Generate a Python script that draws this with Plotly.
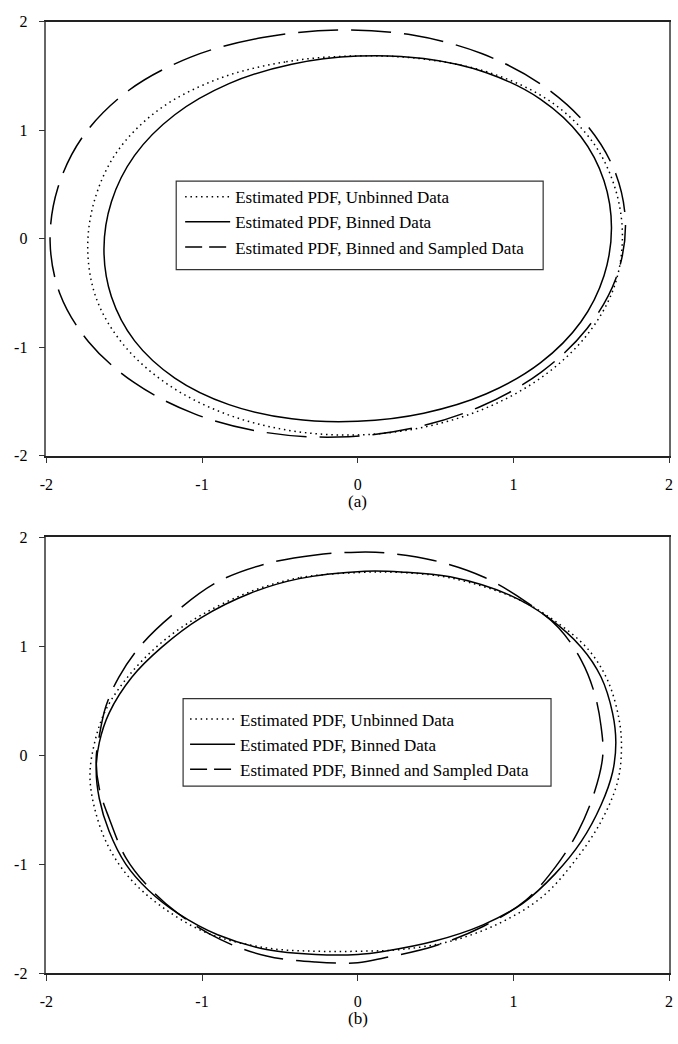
import plotly.graph_objects as go

# ---------------- data ----------------
# Panel (a): contour points, going round each closed curve, starting at the top
a_unbinned_x = [-0.017, -0.466, -0.901, -1.280, -1.549, -1.692, -1.734, -1.676, -1.504, -1.231, -0.876, -0.462,
                -0.017, 0.428, 0.842, 1.197, 1.470, 1.642, 1.700, 1.658, 1.515, 1.246, 0.867, 0.432, -0.017]
a_unbinned_y = [1.685, 1.630, 1.471, 1.187, 0.795, 0.347, -0.112, -0.563, -0.979, -1.333, -1.600, -1.763,
                -1.810, -1.737, -1.550, -1.262, -0.893, -0.466, -0.012, 0.443, 0.880, 1.257, 1.521, 1.655, 1.685]

a_binned_x = [0.0, -0.424, -0.827, -1.175, -1.433, -1.582, -1.630, -1.582, -1.433, -1.175, -0.827, -0.424,
              0.0, 0.424, 0.827, 1.175, 1.433, 1.582, 1.630, 1.582, 1.433, 1.175, 0.827, 0.424, 0.0]
a_binned_y = [1.684, 1.609, 1.430, 1.143, 0.768, 0.341, -0.100, -0.535, -0.942, -1.285, -1.530, -1.661,
              -1.684, -1.609, -1.430, -1.143, -0.768, -0.341, 0.100, 0.535, 0.942, 1.285, 1.530, 1.661, 1.684]

a_sampled_x = [-0.128, -0.611, -1.073, -1.474, -1.764, -1.926, -1.976, -1.913, -1.728, -1.435, -1.052, -0.607,
               -0.128, 0.351, 0.796, 1.179, 1.472, 1.657, 1.720, 1.657, 1.472, 1.179, 0.796, 0.351, -0.128]
a_sampled_y = [1.923, 1.855, 1.674, 1.364, 0.945, 0.469, -0.023, -0.507, -0.952, -1.328, -1.613, -1.783,
               -1.829, -1.747, -1.543, -1.230, -0.830, -0.371, 0.117, 0.601, 1.046, 1.422, 1.707, 1.877, 1.923]

# Panel (b)
b_unbinned_x = [0.0, -0.375, -0.69, -1.007, -1.26, -1.47, -1.618, -1.69, -1.72, -1.69, -1.608, -1.47, -1.26, -0.965,
                -0.586, -0.27, 0.0, 0.278, 0.594, 0.91, 1.184, 1.395, 1.563, 1.669, 1.694, 1.679, 1.605, 1.479, 1.268,
                1.016, 0.594, 0.278, 0.0]
b_unbinned_y = [1.676, 1.628, 1.50, 1.284, 1.034, 0.73, 0.416, 0.115, -0.187, -0.488, -0.82, -1.12, -1.39, -1.634,
                -1.77, -1.80, -1.80, -1.784, -1.709, -1.543, -1.302, -0.97, -0.609, -0.247, 0.054, 0.326, 0.687,
                0.973, 1.23, 1.44, 1.627, 1.676, 1.676]

b_binned_x = [0.046, -0.375, -0.69, -1.007, -1.26, -1.45, -1.597, -1.66, -1.68, -1.66, -1.597, -1.49, -1.344, -1.155,
              -0.90, -0.586, -0.27, 0.0, 0.173, 0.489, 0.805, 1.058, 1.268, 1.437, 1.563, 1.637, 1.658, 1.637, 1.563,
              1.437, 1.226, 0.973, 0.594, 0.278, 0.046]
b_binned_y = [1.688, 1.62, 1.486, 1.26, 0.989, 0.717, 0.386, 0.115, -0.127, -0.398, -0.699, -1.0, -1.24, -1.453,
              -1.649, -1.784, -1.83, -1.83, -1.80, -1.709, -1.558, -1.362, -1.09, -0.79, -0.458, -0.157, 0.115,
              0.386, 0.717, 0.989, 1.26, 1.471, 1.637, 1.682, 1.688]

b_sampled_x = [0.0, -0.27, -0.586, -0.9, -1.176, -1.386, -1.534, -1.618, -1.66, -1.68, -1.66, -1.597, -1.49, -1.344,
               -1.155, -0.88, -0.586, -0.27, 0.0, 0.173, 0.489, 0.805, 1.079, 1.268, 1.416, 1.521, 1.574, 1.563, 1.521,
               1.437, 1.29, 1.079, 0.805, 0.489, 0.173, 0.0]
b_sampled_y = [1.863, 1.838, 1.757, 1.59, 1.305, 1.019, 0.717, 0.446, 0.175, -0.036, -0.307, -0.579, -0.94, -1.21,
               -1.453, -1.694, -1.844, -1.899, -1.905, -1.86, -1.754, -1.573, -1.332, -1.03, -0.699, -0.338, -0.006,
               0.265, 0.567, 0.868, 1.17, 1.41, 1.637, 1.787, 1.857, 1.863]

series_names = ["Estimated PDF, Unbinned Data", "Estimated PDF, Binned Data",
                "Estimated PDF, Binned and Sampled Data"]
tick_vals = [-2, -1, 0, 1, 2]
tick_text = ["-2", "-1", "0", "1", "2"]
panel_labels = ["(a)", "(b)"]

# ---------------- figure ----------------
FONT = "Liberation Serif, Times New Roman, serif"
styles = [dict(color="black", width=1.5, dash="1.5px,3.8px"),
          dict(color="black", width=1.5),
          dict(color="black", width=1.5, dash="40px,13px")]
legend_styles = [dict(color="black", width=1.5, dash="1.5px,3.8px"),
                 dict(color="black", width=1.5),
                 dict(color="black", width=1.5, dash="17px,7px")]

fig = go.Figure()
panels = [
    ([a_unbinned_x, a_binned_x, a_sampled_x], [a_unbinned_y, a_binned_y, a_sampled_y], "x", "y", "legend"),
    ([b_unbinned_x, b_binned_x, b_sampled_x], [b_unbinned_y, b_binned_y, b_sampled_y], "x2", "y2", "legend2"),
]
for xs, ys, xa, ya, lg in panels:
    for i in range(3):
        fig.add_trace(go.Scatter(
            x=xs[i], y=ys[i], mode="lines", name=series_names[i], showlegend=False,
            line=dict(shape="spline", smoothing=1.0, **styles[i]),
            xaxis=xa, yaxis=ya, hoverinfo="skip"))
    # legend keys (shorter dash pattern for the legend key, as in the original)
    for i in range(3):
        fig.add_trace(go.Scatter(
            x=[None], y=[None], mode="lines", name=series_names[i], showlegend=True,
            line=legend_styles[i], xaxis=xa, yaxis=ya, legend=lg, hoverinfo="skip"))

W, H = 678, 1044
px = lambda v: v / W
py = lambda v: 1 - v / H

axis_common = dict(range=[-2, 2], tickmode="array", tickvals=tick_vals, ticktext=tick_text,
                   ticks="outside", ticklen=6, tickwidth=1, tickcolor="#333",
                   showgrid=False, zeroline=False, showline=True, mirror=True,
                   tickfont=dict(family=FONT, size=16, color="black"), fixedrange=True)

legend_common = dict(font=dict(family=FONT, size=17, color="black"), bgcolor="rgba(0,0,0,0)",
                     borderwidth=0, xanchor="left", yanchor="top", itemwidth=45,
                     tracegroupgap=0, traceorder="normal", itemclick=False, itemdoubleclick=False)

fig.update_layout(
    width=W, height=H, margin=dict(l=0, r=0, t=0, b=0),
    paper_bgcolor="white", plot_bgcolor="white", showlegend=True,
    xaxis=dict(domain=[px(40), px(673)], anchor="y", linecolor="#222", linewidth=1.5,
               ticklabelstandoff=7, **axis_common),
    yaxis=dict(domain=[py(455), py(14)], anchor="x", linecolor="#666", linewidth=1.5,
               ticklabelstandoff=8, **axis_common),
    xaxis2=dict(domain=[px(40), px(673)], anchor="y2", linecolor="#222", linewidth=1.5,
                ticklabelstandoff=7, **axis_common),
    yaxis2=dict(domain=[py(981), py(538)], anchor="x2", linecolor="#666", linewidth=1.5,
                ticklabelstandoff=8, **axis_common),
    legend=dict(x=px(176), y=py(174), **legend_common),
    legend2=dict(x=px(181), y=py(705), **legend_common),
    shapes=[
        dict(type="rect", xref="paper", yref="paper", x0=px(172), x1=px(545), y0=py(266), y1=py(176),
             line=dict(color="#333", width=1.2), fillcolor="rgba(0,0,0,0)"),
        dict(type="rect", xref="paper", yref="paper", x0=px(179), x1=px(553), y0=py(791), y1=py(702),
             line=dict(color="#333", width=1.2), fillcolor="rgba(0,0,0,0)"),
    ],
    annotations=[
        dict(text=panel_labels[0], x=0, xref="x", y=py(490), yref="paper", showarrow=False,
             font=dict(family=FONT, size=17, color="black"), yanchor="top"),
        dict(text=panel_labels[1], x=0, xref="x2", y=py(1016), yref="paper", showarrow=False,
             font=dict(family=FONT, size=17, color="black"), yanchor="top"),
    ],
)

fig.write_html("out.html")
